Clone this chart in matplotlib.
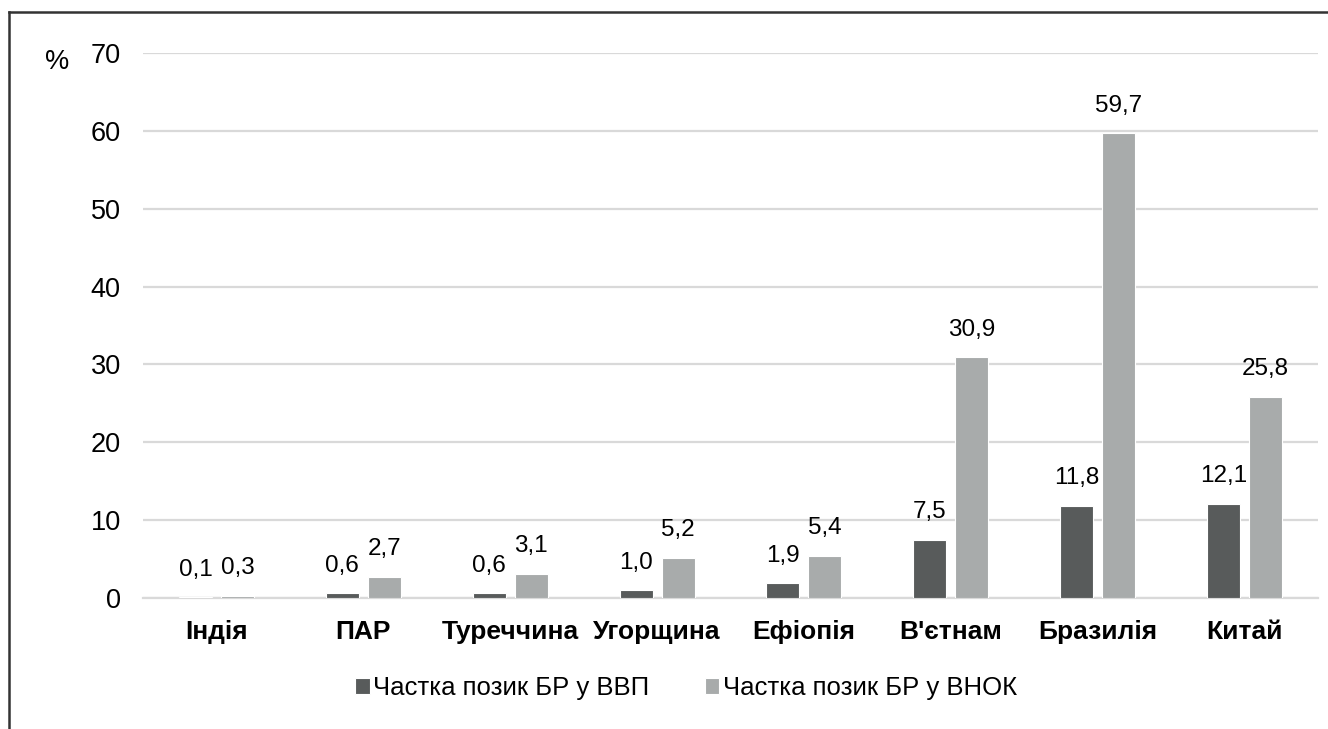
import numpy as np
import matplotlib.pyplot as plt
from matplotlib.lines import Line2D

plt.rcParams['font.family'] = ['Liberation Sans', 'DejaVu Sans']

# Bank loans share by country, %
countries = ['Індія', 'ПАР', 'Туреччина', 'Угорщина', 'Ефіопія', "В'єтнам", 'Бразилія', 'Китай']
share_gdp = [0.1, 0.6, 0.6, 1.0, 1.9, 7.5, 11.8, 12.1]
share_gfcf = [0.3, 2.7, 3.1, 5.2, 5.4, 30.9, 59.7, 25.8]
series_names = ['Частка позик БР у ВВП', 'Частка позик БР у ВНОК']
yticks = [0, 10, 20, 30, 40, 50, 60, 70]

dark = '#585b5b'
light = '#a8abab'
grid_col = '#d9d9d9'

fig = plt.figure(figsize=(13.28, 7.29), dpi=100)
ax = fig.add_axes([0.1077, 0.1797, 0.8848, 0.7476])

x = np.arange(len(countries))
w = 0.225
off = 0.143
b1 = ax.bar(x - off, share_gdp, w, color=dark, edgecolor='white', linewidth=0.8, label=series_names[0], zorder=3)
b2 = ax.bar(x + off, share_gfcf, w, color=light, edgecolor='white', linewidth=0.8, label=series_names[1], zorder=3)

# value labels with comma decimals
for bars, vals in [(b1, share_gdp), (b2, share_gfcf)]:
    for rect, v in zip(bars, vals):
        ax.annotate(f'{v:.1f}'.replace('.', ','),
                    (rect.get_x() + rect.get_width() / 2, v),
                    xytext=(0, 12), textcoords='offset points',
                    ha='center', va='bottom', fontsize=17.5, zorder=4)

ax.set_xlim(-0.5, len(countries) - 0.5)
ax.set_ylim(0, 70)
ax.set_yticks(yticks)
ax.set_yticklabels([str(t) for t in yticks], fontsize=19.5)
ax.set_xticks(x)
ax.set_xticklabels(countries, fontsize=19, fontweight='bold')
ax.tick_params(axis='y', length=0, pad=16)
ax.tick_params(axis='x', length=0, pad=16)
ax.yaxis.grid(True, color=grid_col, linewidth=1.6, zorder=0)
ax.set_axisbelow(True)
for s in ['top', 'right', 'left']:
    ax.spines[s].set_visible(False)
ax.spines['bottom'].set_color(grid_col)
ax.spines['bottom'].set_linewidth(1.6)

fig.text(0.043, 0.915, '%', fontsize=19.5, ha='center', va='center')

fig.legend(handles=[b1, b2], labels=series_names, loc='center',
           bbox_to_anchor=(0.5166, 0.0562), ncol=2, frameon=False,
           fontsize=18.5, handlelength=0.55, handleheight=0.55,
           handletextpad=0.12, columnspacing=2.2)

# outer frame (top and left edges)
fig.add_artist(Line2D([0.0068, 1.0], [0.9835, 0.9835], color='#333333', linewidth=1.8))
fig.add_artist(Line2D([0.0068, 0.0068], [0.0, 0.9835], color='#333333', linewidth=1.8))

fig.savefig('out.png', dpi=100)
